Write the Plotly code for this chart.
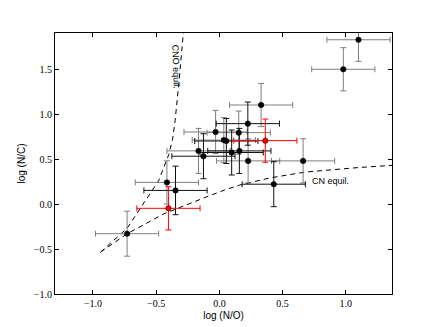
import plotly.graph_objects as go

# =============== data: log(N/O), log(N/C) with errors
# points whose error bars are grey
grey_x = [-0.73, -0.415, 0.33, -0.03, 0.153, 0.035, -0.165, 0.227, 0.662, 1.10, 0.98]
grey_y = [-0.33, 0.24, 1.10, 0.80, 0.793, 0.71, 0.59, 0.479, 0.479, 1.825, 1.497]
grey_xerr = [0.25, 0.25, 0.25, 0.25, 0.25, 0.25, 0.25, 0.25, 0.25, 0.25, 0.25]
grey_yerr = [0.25, 0.24, 0.24, 0.24, 0.24, 0.25, 0.25, 0.245, 0.245, 0.24, 0.24]

# points whose error bars are black
black_x = [-0.347, 0.225, 0.055, -0.126, 0.097, 0.158, 0.43]
black_y = [0.151, 0.893, 0.70, 0.531, 0.572, 0.59, 0.22]
black_xerr = [0.25, 0.25, 0.25, 0.25, 0.25, 0.25, 0.25]
black_yerr = [0.27, 0.24, 0.25, 0.25, 0.25, 0.25, 0.25]

# red points
red_x = [-0.403, 0.363]
red_y = [-0.048, 0.704]
red_xerr = [0.25, 0.25]
red_yerr = [0.24, 0.24]

# =============== equilibrium curves
cn_x = [-0.94, -0.73, -0.65, -0.44, -0.1, 0.04, 0.16, 0.4, 0.68, 0.87, 1.1, 1.37]
cn_y = [-0.535, -0.33, -0.27, -0.11, 0.08, 0.155, 0.21, 0.29, 0.355, 0.38, 0.405, 0.43]
cno_x = [-0.94, -0.73, -0.48, -0.429, -0.40, -0.37, -0.35, -0.32, -0.295, -0.285]
cno_y = [-0.535, -0.27, 0.26, 0.45, 0.55, 0.72, 0.93, 1.35, 1.75, 1.9]

xticks = [-1.0, -0.5, 0.0, 0.5, 1.0]
yticks = [-1.0, -0.5, 0.0, 0.5, 1.0, 1.5]

grey = '#7f7f7f'
dash = '5px,4px'

fig = go.Figure()
fig.add_trace(go.Scatter(x=cno_x, y=cno_y, mode='lines', line=dict(color='black', width=1, dash=dash)))
fig.add_trace(go.Scatter(x=cn_x, y=cn_y, mode='lines', line=dict(color='black', width=1, dash=dash)))


def pts(x, y, xe, ye, ecol, mcol):
    return go.Scatter(
        x=x, y=y, mode='markers',
        marker=dict(size=5.5, color=mcol, line=dict(color='black', width=0.5)),
        error_x=dict(type='data', array=xe, color=ecol, thickness=1, width=3),
        error_y=dict(type='data', array=ye, color=ecol, thickness=1, width=3))


fig.add_trace(pts(grey_x, grey_y, grey_xerr, grey_yerr, grey, 'black'))
fig.add_trace(pts(black_x, black_y, black_xerr, black_yerr, '#111111', 'black'))
fig.add_trace(pts(red_x, red_y, red_xerr, red_yerr, 'red', 'red'))

lbl = dict(family='Liberation Sans, Arial, sans-serif', size=9, color='black')
fig.add_annotation(x=-0.345, y=1.53, text='CNO equil.', showarrow=False, textangle=88, font=lbl)
fig.add_annotation(x=0.715, y=0.26, text='CN equil.', showarrow=False, xanchor='left', font=lbl)

tickfont = dict(family='Liberation Serif, DejaVu Serif, serif', size=10, color='black')
axis = dict(showgrid=False, zeroline=False, showline=True, linecolor='black', linewidth=1,
            mirror='allticks', ticks='inside', ticklen=4, tickcolor='black', tickfont=tickfont,
            automargin=False)
fig.update_xaxes(range=[-1.3, 1.365], tickvals=xticks, ticktext=['\u22121.0', '\u22120.5', '0.0', '0.5', '1.0'],
                 title=dict(text='log (N/O)', font=dict(family='Liberation Sans, Arial', size=10, color='black'), standoff=3),
                 **axis)
fig.update_yaxes(range=[-1.0, 1.9], tickvals=yticks,
                 ticktext=['\u22121.0', '\u22120.5', '0.0', '0.5', '1.0', '1.5'],
                 title=dict(text='log (N/C)', font=dict(family='Liberation Sans, Arial', size=10, color='black'), standoff=6),
                 **axis)
# page body has an 8px margin, so the figure is made 8px smaller and shifted back
fig.update_layout(width=428, height=319, showlegend=False,
                  margin=dict(l=46.5, r=43.6, t=24.7, b=32.7, autoexpand=False),
                  plot_bgcolor='white', paper_bgcolor='white')

fig.write_html("out.html")
